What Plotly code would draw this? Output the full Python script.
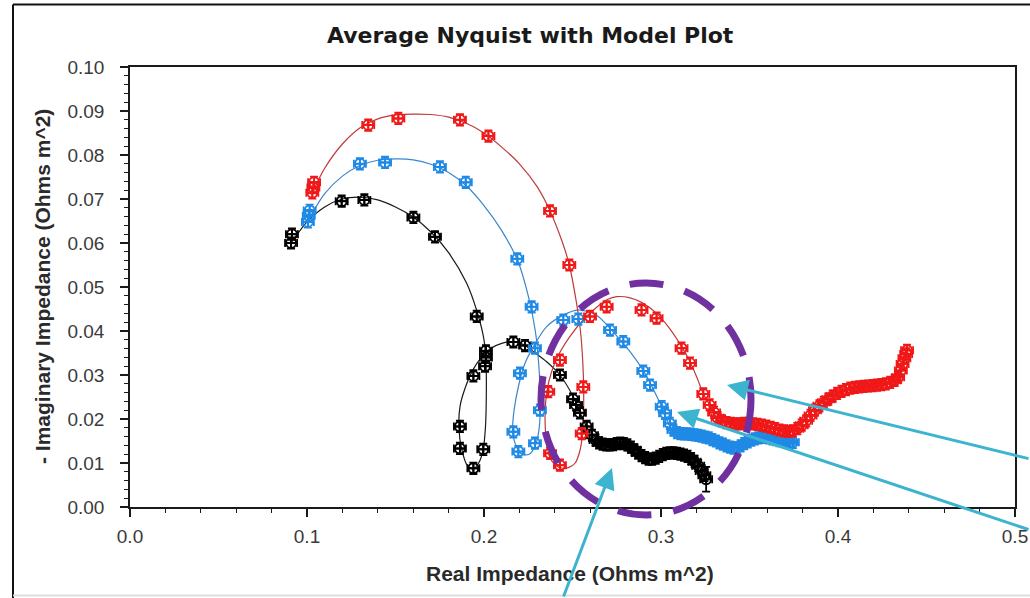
import plotly.graph_objects as go

# ---------------- data ----------------
black_x = [0.0910, 0.0915, 0.1196, 0.1324, 0.1601, 0.1723, 0.1959, 0.2006, 0.2011, 0.2011,
           0.1996, 0.1940, 0.1864, 0.1864, 0.1940, 0.2166, 0.2232, 0.2429, 0.2503, 0.2520,
           0.2542, 0.2580,
           0.2610, 0.2630, 0.2650, 0.2670, 0.2690, 0.2710, 0.2730, 0.2750, 0.2770, 0.2790,
           0.2810, 0.2830, 0.2850, 0.2870, 0.2890, 0.2910, 0.2930, 0.2950, 0.2970, 0.2990,
           0.3010, 0.3030, 0.3050, 0.3070, 0.3090, 0.3110, 0.3130, 0.3150, 0.3170, 0.3190,
           0.3210, 0.3230, 0.3245, 0.3255]
black_y = [0.0600, 0.0620, 0.0695, 0.0698, 0.0658, 0.0614, 0.0433, 0.0320, 0.0340, 0.0355,
           0.0131, 0.0088, 0.0133, 0.0183, 0.0298, 0.0375, 0.0367, 0.0300, 0.0245, 0.0232,
           0.0214, 0.0183,
           0.0163, 0.0152, 0.0146, 0.0143, 0.0141, 0.0141, 0.0142, 0.0144, 0.0145, 0.0144,
           0.0141, 0.0136, 0.0130, 0.0123, 0.0117, 0.0112, 0.0109, 0.0109, 0.0111, 0.0115,
           0.0119, 0.0122, 0.0123, 0.0123, 0.0122, 0.0120, 0.0118, 0.0115, 0.0110, 0.0103,
           0.0094, 0.0082, 0.0072, 0.0063]

blue_x = [0.1005, 0.1010, 0.1015, 0.1299, 0.1441, 0.1751, 0.1897, 0.2188, 0.2269, 0.2288,
          0.2316, 0.2288, 0.2194, 0.2166, 0.2203, 0.2448, 0.2533, 0.2712, 0.2787, 0.2900,
          0.2938, 0.3004, 0.3023,
          0.3050, 0.3070, 0.3090, 0.3110, 0.3130, 0.3150, 0.3170, 0.3190, 0.3210, 0.3230,
          0.3250, 0.3270, 0.3290, 0.3310, 0.3330, 0.3350, 0.3370, 0.3390, 0.3410, 0.3430,
          0.3450, 0.3470, 0.3490, 0.3510, 0.3530, 0.3550, 0.3570, 0.3590, 0.3610, 0.3630,
          0.3650, 0.3670, 0.3690, 0.3710, 0.3730, 0.3745]
blue_y = [0.0648, 0.0662, 0.0674, 0.0780, 0.0783, 0.0773, 0.0738, 0.0564, 0.0455, 0.0361,
          0.0220, 0.0145, 0.0126, 0.0171, 0.0304, 0.0425, 0.0427, 0.0402, 0.0376, 0.0309,
          0.0277, 0.0228, 0.0213,
          0.0190, 0.0175, 0.0169, 0.0167, 0.0166, 0.0166, 0.0165, 0.0164, 0.0163, 0.0161,
          0.0159, 0.0157, 0.0153, 0.0150, 0.0146, 0.0143, 0.0139, 0.0136, 0.0134, 0.0135,
          0.0139, 0.0144, 0.0148, 0.0152, 0.0155, 0.0157, 0.0158, 0.0158, 0.0157, 0.0155,
          0.0153, 0.0151, 0.0150, 0.0149, 0.0148, 0.0147]

red_x = [0.1030, 0.1036, 0.1040, 0.1346, 0.1516, 0.1864, 0.2025, 0.2373, 0.2482, 0.2561,
         0.2552, 0.2429, 0.2373, 0.2363, 0.2429, 0.2599, 0.2693, 0.2890, 0.2975, 0.3116,
         0.3164, 0.3239,
         0.3275, 0.3300, 0.3320, 0.3345, 0.3370, 0.3395, 0.3420, 0.3445, 0.3470, 0.3495,
         0.3520, 0.3545, 0.3570, 0.3595, 0.3620, 0.3645, 0.3670, 0.3695, 0.3720, 0.3745,
         0.3770, 0.3795, 0.3820, 0.3845, 0.3870, 0.3895, 0.3920, 0.3945, 0.3970, 0.3995,
         0.4020, 0.4045, 0.4070, 0.4095, 0.4120, 0.4145, 0.4170, 0.4195, 0.4220, 0.4245,
         0.4270, 0.4295, 0.4320, 0.4340, 0.4355, 0.4365, 0.4375, 0.4385, 0.4390]
red_y = [0.0714, 0.0726, 0.0738, 0.0868, 0.0883, 0.0880, 0.0843, 0.0673, 0.0550, 0.0273,
         0.0167, 0.0095, 0.0122, 0.0262, 0.0334, 0.0433, 0.0455, 0.0448, 0.0429, 0.0361,
         0.0327, 0.0257,
         0.0232, 0.0215, 0.0203, 0.0196, 0.0192, 0.0190, 0.0189, 0.0189, 0.0190, 0.0190,
         0.0189, 0.0188, 0.0186, 0.0184, 0.0181, 0.0178, 0.0175, 0.0173, 0.0172, 0.0173,
         0.0178, 0.0186, 0.0196, 0.0208, 0.0220, 0.0230, 0.0238, 0.0245, 0.0252, 0.0258,
         0.0263, 0.0267, 0.0270, 0.0272, 0.0273, 0.0274, 0.0275, 0.0276, 0.0277, 0.0278,
         0.0280, 0.0283, 0.0288, 0.0295, 0.0310, 0.0325, 0.0338, 0.0348, 0.0356]

# model (fit) curves
black_model_x = [0.0910, 0.1000, 0.1100, 0.1200, 0.1300, 0.1400, 0.1500, 0.1600, 0.1700, 0.1800,
                 0.1900, 0.1960, 0.2000, 0.2012, 0.2013, 0.2008, 0.1995, 0.1970, 0.1940, 0.1905,
                 0.1875, 0.1858, 0.1865, 0.1895, 0.1935, 0.1985, 0.2040, 0.2100, 0.2160, 0.2220,
                 0.2290, 0.2354, 0.2429, 0.2505, 0.2561, 0.2599, 0.2650, 0.2700, 0.2780, 0.2850,
                 0.2930, 0.3000, 0.3070, 0.3150, 0.3210, 0.3250]
black_model_y = [0.0600, 0.0648, 0.0682, 0.0700, 0.0704, 0.0698, 0.0682, 0.0659, 0.0625, 0.0578,
                 0.0510, 0.0445, 0.0380, 0.0320, 0.0250, 0.0180, 0.0130, 0.0100, 0.0087, 0.0095,
                 0.0130, 0.0180, 0.0230, 0.0272, 0.0310, 0.0340, 0.0361, 0.0372, 0.0376, 0.0370,
                 0.0350, 0.0330, 0.0300, 0.0250, 0.0198, 0.0167, 0.0148, 0.0142, 0.0144, 0.0130,
                 0.0109, 0.0117, 0.0123, 0.0115, 0.0094, 0.0065]

blue_model_x = [0.1005, 0.1100, 0.1200, 0.1300, 0.1400, 0.1500, 0.1600, 0.1700, 0.1800, 0.1900,
                0.2000, 0.2100, 0.2190, 0.2250, 0.2290, 0.2310, 0.2318, 0.2312, 0.2290, 0.2255,
                0.2215, 0.2180, 0.2162, 0.2170, 0.2195, 0.2230, 0.2280, 0.2354, 0.2448, 0.2533,
                0.2636, 0.2721, 0.2825, 0.2900, 0.2960, 0.3013, 0.3051, 0.3090, 0.3130, 0.3200,
                0.3280, 0.3350, 0.3410, 0.3470, 0.3540, 0.3600, 0.3680, 0.3745]
blue_model_y = [0.0650, 0.0712, 0.0752, 0.0776, 0.0788, 0.0791, 0.0789, 0.0779, 0.0760, 0.0730,
                0.0685, 0.0628, 0.0560, 0.0480, 0.0400, 0.0320, 0.0240, 0.0180, 0.0140, 0.0120,
                0.0120, 0.0140, 0.0175, 0.0220, 0.0275, 0.0325, 0.0365, 0.0410, 0.0436, 0.0448,
                0.0436, 0.0402, 0.0353, 0.0310, 0.0265, 0.0220, 0.0183, 0.0168, 0.0166, 0.0164,
                0.0155, 0.0145, 0.0134, 0.0140, 0.0155, 0.0158, 0.0151, 0.0147]

red_model_x = [0.1030, 0.1100, 0.1200, 0.1300, 0.1400, 0.1500, 0.1600, 0.1700, 0.1800, 0.1900,
               0.2000, 0.2100, 0.2200, 0.2300, 0.2373, 0.2440, 0.2482, 0.2520, 0.2545, 0.2558,
               0.2563, 0.2562, 0.2555, 0.2540, 0.2515, 0.2480, 0.2445, 0.2405, 0.2370, 0.2350,
               0.2345, 0.2355, 0.2380, 0.2420, 0.2486, 0.2560, 0.2640, 0.2700, 0.2750, 0.2820,
               0.2890, 0.2975, 0.3050, 0.3116, 0.3164, 0.3200, 0.3239, 0.3277, 0.3314, 0.3390,
               0.3484, 0.3578, 0.3660, 0.3720, 0.3780, 0.3860, 0.3936, 0.4011, 0.4100, 0.4200,
               0.4290, 0.4340, 0.4360, 0.4390]
red_model_y = [0.0715, 0.0770, 0.0825, 0.0862, 0.0882, 0.0891, 0.0893, 0.0892, 0.0886, 0.0872,
               0.0850, 0.0818, 0.0780, 0.0728, 0.0673, 0.0605, 0.0550, 0.0470, 0.0400, 0.0330,
               0.0270, 0.0210, 0.0160, 0.0125, 0.0100, 0.0090, 0.0088, 0.0095, 0.0115, 0.0160,
               0.0210, 0.0262, 0.0305, 0.0345, 0.0388, 0.0425, 0.0455, 0.0472, 0.0478, 0.0476,
               0.0465, 0.0440, 0.0405, 0.0365, 0.0330, 0.0297, 0.0258, 0.0230, 0.0205, 0.0192,
               0.0190, 0.0186, 0.0177, 0.0172, 0.0181, 0.0220, 0.0243, 0.0262, 0.0272, 0.0275,
               0.0282, 0.0295, 0.0320, 0.0356]

ERR_Y = 0.0013
ERR_X = 0.0034
BLACK_LAST_ERR_Y = 0.0028

x_tick_vals = [0.0, 0.1, 0.2, 0.3, 0.4, 0.5]
y_tick_vals = [0.00, 0.01, 0.02, 0.03, 0.04, 0.05, 0.06, 0.07, 0.08, 0.09, 0.10]

TITLE = "Average Nyquist with Model Plot"
X_TITLE = "Real Impedance (Ohms m^2)"
Y_TITLE = "- Imaginary Impedance (Ohms m^2)"

# ---------------- figure ----------------
W, H = 1030, 598
L, R, T, B = 130, 15, 67, 91
PW, PH = W - L - R, H - T - B


def px(xp):
    return (xp - L) / PW


def py(yp):
    return (H - B - yp) / PH


fig = go.Figure()

series = [
    (black_model_x, black_model_y, black_x, black_y, "#1a1a1a", "#000000"),
    (blue_model_x, blue_model_y, blue_x, blue_y, "#3a86cc", "#1f8ae6"),
    (red_model_x, red_model_y, red_x, red_y, "#c0393b", "#f01818"),
]

for mx, my, dx, dy, lc, mc in series:
    fig.add_trace(go.Scatter(x=mx, y=my, mode="lines", line=dict(color=lc, width=1.2,
                             shape="spline", smoothing=0.8),
                             hoverinfo="skip", showlegend=False))

for mx, my, dx, dy, lc, mc in series:
    ey = [ERR_Y] * len(dy)
    if mc == "#000000":
        ey[-1] = BLACK_LAST_ERR_Y
    fig.add_trace(go.Scatter(
        x=dx, y=dy, mode="markers",
        marker=dict(symbol="circle-cross-open", size=10, color=mc, line=dict(color=mc, width=2)),
        error_y=dict(type="data", array=ey, color=mc, thickness=1.8, width=4),
        error_x=dict(type="constant", value=ERR_X, color=mc, thickness=1.8, width=4),
        showlegend=False))

axis_common = dict(showline=True, linecolor="#1a1a1a", linewidth=1.5, showgrid=False,
                   zeroline=False, tickcolor="#1a1a1a", tickwidth=1.5, automargin=False)

fig.update_layout(
    width=W, height=H, autosize=False,
    margin=dict(l=L, r=R, t=T, b=B, pad=0, autoexpand=False),
    paper_bgcolor="white", plot_bgcolor="white",
    showlegend=False,
    xaxis=dict(range=[0, 0.5], tickvals=x_tick_vals, tickformat=".1f", ticks="outside",
               ticklen=8, mirror=True, ticklabelstandoff=3,
               minor=dict(dtick=0.02, tick0=0, ticks="outside", ticklen=4, tickwidth=1.3,
                          tickcolor="#1a1a1a"),
               tickfont=dict(family="Liberation Sans, Arial", size=19, color="#3a3a3a"),
               **axis_common),
    yaxis=dict(range=[0, 0.1], tickvals=y_tick_vals, tickformat=".2f", ticks="outside",
               ticklen=8, mirror=True, ticklabelstandoff=12,
               minor=dict(dtick=0.002, tick0=0, ticks="outside", ticklen=4, tickwidth=1.3,
                          tickcolor="#1a1a1a"),
               tickfont=dict(family="Liberation Sans, Arial", size=19, color="#3a3a3a"),
               **axis_common),
    xaxis2=dict(range=[0, 0.5], overlaying="x", anchor="y", side="bottom",
                tickvals=x_tick_vals, ticks="inside", ticklen=8, mirror="ticks",
                showticklabels=False,
                minor=dict(dtick=0.02, tick0=0, ticks="inside", ticklen=4, tickwidth=1.3,
                           tickcolor="#1a1a1a"),
                **axis_common),
    yaxis2=dict(range=[0, 0.1], overlaying="y", anchor="x", side="left",
                tickvals=y_tick_vals, ticks="inside", ticklen=8, mirror="ticks",
                showticklabels=False,
                minor=dict(dtick=0.002, tick0=0, ticks="inside", ticklen=4, tickwidth=1.3,
                           tickcolor="#1a1a1a"),
                **axis_common),
)

annotations = [
    dict(text="<b>%s</b>" % TITLE, x=px(530), y=py(36), xref="paper", yref="paper",
         showarrow=False, xanchor="center", yanchor="middle",
         font=dict(family="DejaVu Sans", size=22, color="#1a1a1a")),
    dict(text="<b>%s</b>" % X_TITLE, x=px(570), y=py(573), xref="paper", yref="paper",
         showarrow=False, xanchor="center", yanchor="middle",
         font=dict(family="Liberation Sans, Arial", size=21, color="#2a2a2a")),
    dict(text="<b>%s</b>" % Y_TITLE, x=px(42), y=py(287), xref="paper", yref="paper",
         showarrow=False, xanchor="center", yanchor="middle", textangle=-90,
         font=dict(family="Liberation Sans, Arial", size=21, color="#2a2a2a")),
]

arrow_col = "#3db4cf"
for tip, off in [((727, 385), (333, 74)), ((677, 412), (383, 118)), ((612, 468), (-49, 152))]:
    annotations.append(dict(text="", x=px(tip[0]), y=py(tip[1]), xref="paper", yref="paper",
                            ax=off[0], ay=off[1], showarrow=True, arrowhead=2, arrowsize=1.4,
                            arrowwidth=3, arrowcolor=arrow_col, standoff=0))
fig.update_layout(annotations=annotations)

shapes = [
    dict(type="circle", xref="paper", yref="paper", x0=px(541), x1=px(751), y0=py(515), y1=py(283),
         line=dict(color="#7030a0", width=7, dash="34px,22px")),
    dict(type="line", xref="paper", yref="paper", x0=px(13), x1=px(1035), y0=py(4.5), y1=py(4.5),
         line=dict(color="#111111", width=2)),
    dict(type="line", xref="paper", yref="paper", x0=px(13), x1=px(13), y0=py(4.5), y1=py(600),
         line=dict(color="#111111", width=2)),
    dict(type="line", xref="paper", yref="paper", x0=px(13), x1=px(1035), y0=py(595.5), y1=py(595.5),
         line=dict(color="#dddddd", width=2)),
]
fig.update_layout(shapes=shapes)

fig.write_html("out.html")
